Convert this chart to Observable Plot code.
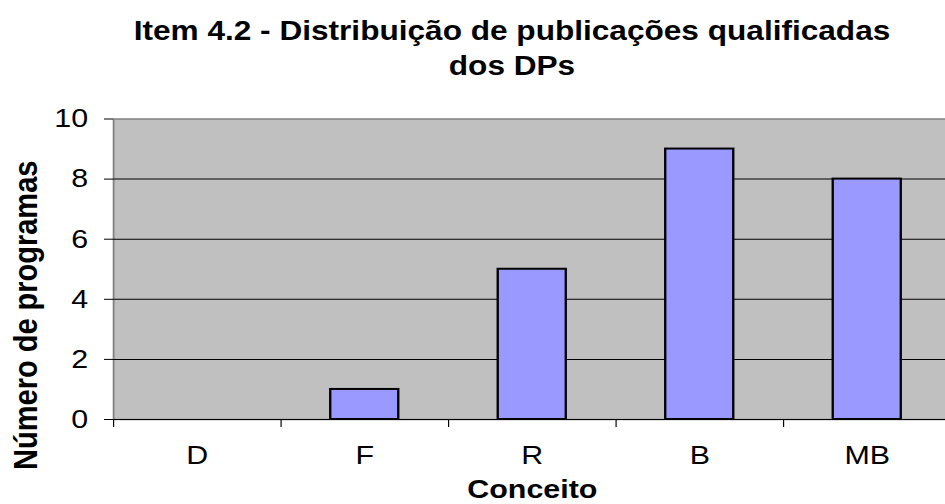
<!DOCTYPE html>
<html>
<head>
<meta charset="utf-8">
<script src="https://cdn.jsdelivr.net/npm/d3@7"></script>
<script src="https://cdn.jsdelivr.net/npm/@observablehq/plot@0.6"></script>
<style>
  html, body { margin: 0; padding: 0; background: #fff; }
  #wrap { position: relative; width: 945px; height: 504px; overflow: hidden; background: #fff; }
  #title { position: absolute; left: 0; top: 14px; width: 1024px; text-align: center; white-space: nowrap;
           font-family: "Liberation Sans", Arial, sans-serif; font-weight: bold;
           font-size: 27px; line-height: 35px; color: #000;
           transform: scaleX(1.17); transform-origin: 512px 0; }
  #chart { position: absolute; left: 0; top: 0; transform: scaleX(1.17); transform-origin: 0 0; }
</style>
</head>
<body>
<div id="wrap">
  <div id="chart"></div>
  <div id="title">Item 4.2 - Distribuição de publicações qualificadas<br>dos DPs</div>
</div>
<script>
const categories = ["D", "F", "R", "B", "MB"];
const values = [0, 1, 5, 9, 8];
const yTicks = [0, 2, 4, 6, 8, 10];
const gridTicks = [2, 4, 6, 8];
const yLabel = "Número de programas";
const xLabel = "Conceito";

const s = 1.17; // horizontal stretch of the original picture
const rows = categories.map((c, i) => ({cat: c, i, v: values[i]}));
const boundaries = d3.range(categories.length + 1);
const font = "'Liberation Sans', Arial, sans-serif";
const left = 113 / s, right = 950.5 / s;

const chart = Plot.plot({
  width: Math.ceil(945 / s),
  height: 504,
  marginTop: 118.5,
  marginBottom: 85,
  marginLeft: left,
  marginRight: Math.ceil(945 / s) - right,
  x: {type: "linear", domain: [0, categories.length], range: [left, right]},
  y: {domain: [0, 10]},
  style: {fontFamily: font, fontSize: "26px", color: "#000", background: "transparent", overflow: "visible"},
  marks: [
    Plot.frame({fill: "#c0c0c0", stroke: "#808080", strokeWidth: 1.5}),
    Plot.ruleY(gridTicks, {stroke: "#000", strokeWidth: 1}),
    Plot.ruleY([0], {stroke: "#000", strokeWidth: 1.2}),
    Plot.axisY({ticks: yTicks, tickSize: 7.7, tickPadding: 14, label: null, fontSize: 26, stroke: "#000", strokeWidth: 1}),
    Plot.axisX({ticks: boundaries, tickSize: 8, tickFormat: () => "", label: null, stroke: "#000", strokeWidth: 1}),
    Plot.rectY(rows.filter(d => d.v > 0), {
      x1: "i", x2: d => d.i + 1, y1: 0, y2: "v",
      insetLeft: 42.5, insetRight: 42.5,
      fill: "#9999ff", stroke: "#000", strokeWidth: 2
    }),
    Plot.text(rows, {x: d => d.i + 0.5, text: "cat", frameAnchor: "bottom", lineAnchor: "middle", dy: 36, fontSize: 26}),
    Plot.text([xLabel], {text: d => d, frameAnchor: "bottom", lineAnchor: "middle", textAnchor: "middle", dy: 70, fontSize: 26, fontWeight: "bold"}),
    Plot.text([yLabel], {text: d => d, frameAnchor: "left", textAnchor: "middle", lineAnchor: "middle", rotate: -90, dx: 21.5 - left, dy: 46, fontSize: 29, fontWeight: "bold"})
  ]
});
document.getElementById("chart").appendChild(chart);
</script>
</body>
</html>
